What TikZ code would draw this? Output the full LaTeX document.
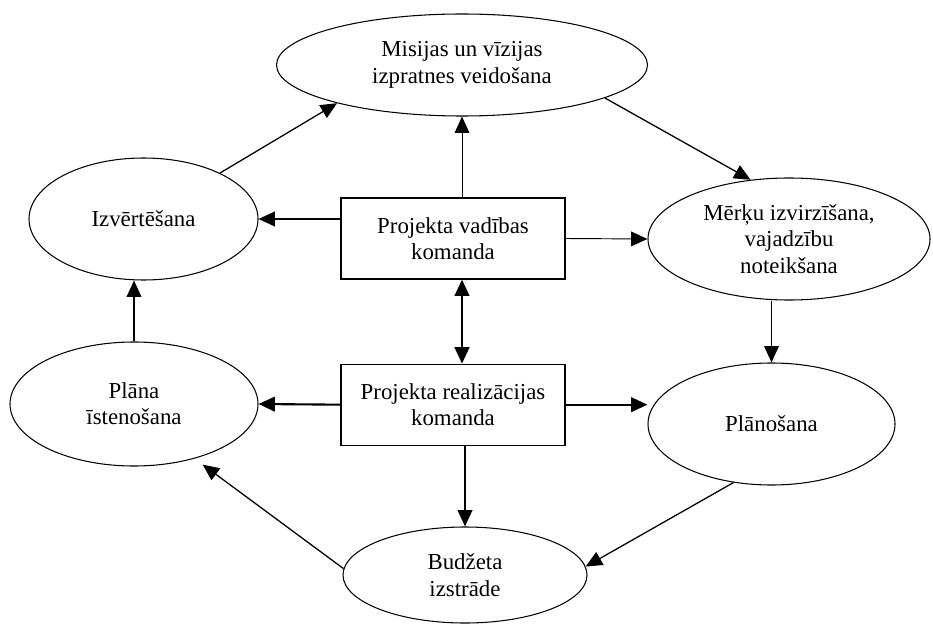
\documentclass[tikz,border=0pt]{standalone}
\usepackage{fontspec}
\setmainfont{Liberation Serif}
\usetikzlibrary{positioning,shapes.geometric,arrows.meta}

\begin{document}
\begin{tikzpicture}[
  x=0.03cm, y=-0.03cm,
  every node/.style={font=\fontsize{19.5pt}{22.5pt}\selectfont},
  >={Triangle[length=14pt,width=12.5pt]},
  team/.style={rectangle, draw, line width=1pt, minimum width=6.72cm,
               minimum height=2.43cm, inner sep=0pt, align=center},
  stage/.style={ellipse, draw, line width=0.9pt, inner sep=0pt, align=center},
  link/.style={->, line width=1.1pt},
  biglink/.style={->, line width=1.8pt}
]
  \useasboundingbox (0,0) rectangle (933,625);

  % central teams
  \node[team] (vad) at (453,238.5) {Projekta vadības\\komanda};
  \node[team, below=2.52cm of vad] (real) {Projekta realizācijas\\komanda};

  % cycle stages
  \node[stage, minimum width=11.13cm, minimum height=3.06cm] (misija) at (462,65)
       {Misijas un vīzijas\\izpratnes veidošana};
  \node[stage, minimum width=8.46cm, minimum height=3.66cm] (merku) at (789,239)
       {Mērķu izvirzīšana,\\vajadzību\\noteikšana};
  \node[stage, minimum width=7.41cm, minimum height=3.66cm] (planos) at (771.5,424)
       {Plānošana};
  \node[stage, minimum width=7.32cm, minimum height=2.88cm] (budzets) at (465,575)
       {Budžeta\\izstrāde};
  \node[stage, minimum width=7.44cm, minimum height=3.72cm] (plana) at (134,404)
       {Plāna\\īstenošana};
  \node[stage, minimum width=6.87cm, minimum height=3.66cm] (izv) at (143.5,219)
       {Izvērtēšana};

  % from the teams
  \draw[biglink] (vad.west |- izv.east) -- (izv.east);
  \draw[->, line width=0.8pt] (vad.north -| misija.south) -- (misija.south);
  \draw[->, line width=0.8pt] (vad.east) -- (merku.west);
  \draw[<->, line width=2pt] (vad.south -| misija.south) -- (real.north -| misija.south);
  \draw[biglink] (real.west) -- (plana.east);
  \draw[biglink] (real.east) -- (real.east -| planos.west);
  \draw[->, line width=1.6pt] (real.south -| budzets.north) -- (budzets.north);

  % the cycle
  \draw[link] (izv.31) -- (misija.197);
  \draw[link] (misija.347) -- (merku.123);
  \draw[link] (merku.south -| planos.north) -- (planos.north);
  \draw[link] (planos.237) -- (budzets.4);
  \draw[link, shorten >=0.3cm] (budzets.177) -- (plana.318);
  \draw[->, line width=1.5pt] (plana.north) -- (plana.north |- izv.south);
\end{tikzpicture}
\end{document}
